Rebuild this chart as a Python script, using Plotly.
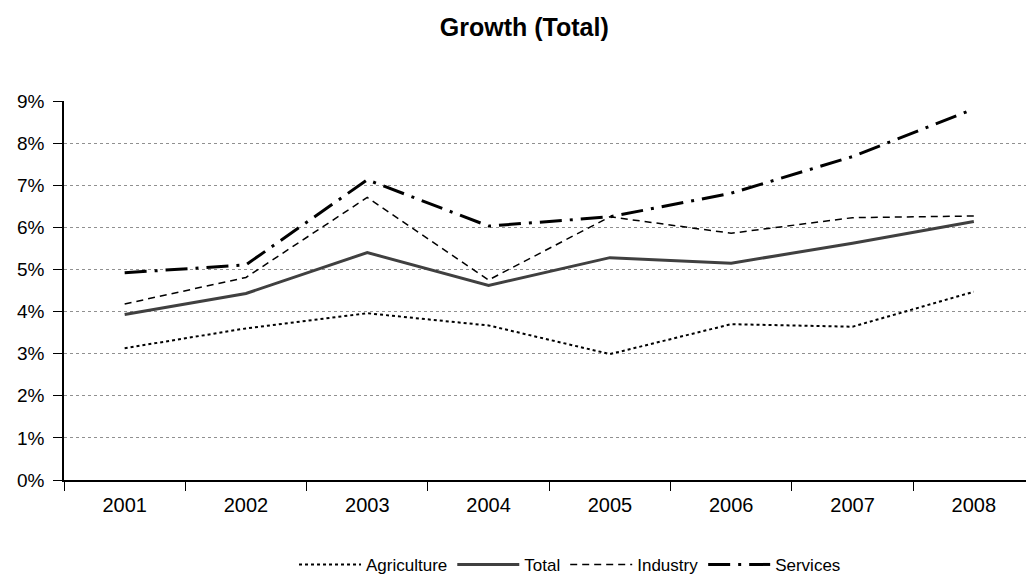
import plotly.graph_objects as go

years = ["2001", "2002", "2003", "2004", "2005", "2006", "2007", "2008"]
agriculture = [3.13, 3.60, 3.96, 3.67, 2.99, 3.70, 3.64, 4.47]
total = [3.93, 4.43, 5.40, 4.62, 5.28, 5.15, 5.62, 6.14]
industry = [4.18, 4.81, 6.71, 4.75, 6.25, 5.86, 6.23, 6.27]
services = [4.92, 5.11, 7.13, 6.03, 6.25, 6.81, 7.68, 8.81]
ytick_vals = [0, 1, 2, 3, 4, 5, 6, 7, 8, 9]
ytick_text = [f"{v}%" for v in ytick_vals]

fig = go.Figure()
fig.add_trace(go.Scatter(x=years, y=agriculture, name="Agriculture", mode="lines",
                         line=dict(color="black", width=2, dash="dot")))
fig.add_trace(go.Scatter(x=years, y=total, name="Total", mode="lines",
                         line=dict(color="#404040", width=3)))
fig.add_trace(go.Scatter(x=years, y=industry, name="Industry", mode="lines",
                         line=dict(color="black", width=1.5, dash="7px,5px")))
fig.add_trace(go.Scatter(x=years, y=services, name="Services", mode="lines",
                         line=dict(color="black", width=3, dash="22px,8px,3px,8px")))

fig.update_layout(
    width=1026, height=574,
    margin=dict(l=64, r=0, t=101, b=94, autoexpand=False),
    paper_bgcolor="white", plot_bgcolor="white",
    font=dict(family="Liberation Sans, Arial, sans-serif", size=19, color="black"),
    title=dict(text="<b>Growth (Total)</b>", x=0.511, xref="container", xanchor="center",
               y=1 - 27 / 574, yref="container", yanchor="middle",
               font=dict(size=25, color="black")),
    showlegend=True,
    legend=dict(orientation="h", x=0.526, xanchor="center", y=-0.224, yanchor="middle",
                font=dict(size=17), traceorder="normal", itemwidth=62),
    xaxis=dict(type="category", range=[-0.5, 7.43], showgrid=False,
               showline=True, linecolor="black", linewidth=1.5,
               ticks="outside", tickson="boundaries", ticklen=9, tickcolor="black",
               tickfont=dict(size=20), ticklabelstandoff=6),
    yaxis=dict(range=[0, 9], tickvals=ytick_vals, ticktext=ytick_text,
               showgrid=True, gridcolor="#909090", griddash="dot", gridwidth=1,
               showline=True, linecolor="black", linewidth=1.5,
               ticks="outside", ticklen=9, tickcolor="black",
               tickfont=dict(size=19), zeroline=False, ticklabelstandoff=5),
)

fig.write_html("out.html")
